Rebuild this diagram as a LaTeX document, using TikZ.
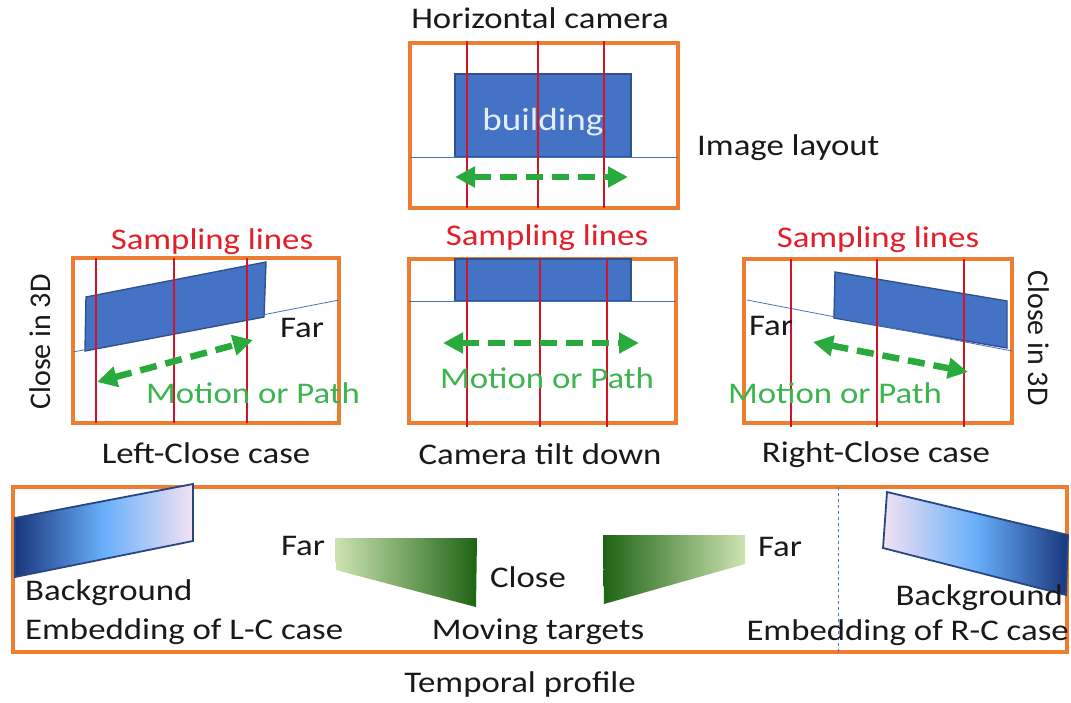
\documentclass[tikz,border=0pt]{standalone}
\usepackage{fontspec}
\setmainfont{Carlito}[FakeStretch=1.16]
\newfontfamily\vfont{Carlito}
\usetikzlibrary{arrows.meta}
\definecolor{orng}{RGB}{237,125,49}
\definecolor{bldg}{RGB}{68,114,196}
\definecolor{bldgedge}{RGB}{47,82,143}
\definecolor{sampred}{RGB}{210,20,40}
\definecolor{txtred}{RGB}{228,30,40}
\definecolor{arrgreen}{RGB}{40,170,60}
\definecolor{txtgreen}{RGB}{60,180,80}
\definecolor{bgdark}{RGB}{25,55,125}
\definecolor{bgmid}{RGB}{105,175,250}
\definecolor{bglight}{RGB}{242,226,242}
\definecolor{bgedge}{RGB}{40,70,130}
\definecolor{tgdark}{RGB}{30,100,20}
\definecolor{tglight}{RGB}{205,228,178}
\definecolor{bldtext}{RGB}{228,238,250}
\definecolor{txtblack}{RGB}{25,25,25}
\begin{document}
\begin{tikzpicture}[x=1pt,y=-1pt,
  frame/.style={draw=orng, line width=3.2pt},
  sline/.style={draw=sampred, line width=1.1pt},
  horizon/.style={draw=bldg, line width=0.8pt},
  bld/.style={fill=bldg, draw=bldgedge, line width=1.4pt},
  motion/.style={draw=arrgreen, line width=6.5pt, dash pattern=on 17pt off 9pt,
     {Triangle[length=20pt,width=20pt]}-{Triangle[length=20pt,width=20pt]}},
  txt/.style={font=\fontsize{30}{35}\selectfont, inner sep=0pt, text=txtblack},
  vtxt/.style={font=\vfont\fontsize{30}{35}\selectfont, inner sep=0pt, text=txtblack},
  redtxt/.style={txt, text=txtred},
  greentxt/.style={txt, text=txtgreen},
  bgshape/.style={draw=bgedge, line width=1.8pt}
]
\useasboundingbox (0,0) rectangle (1071,702);

% ---------- top box: horizontal camera ----------
\draw[frame] (410,43) rectangle (678,208);
\draw[bld] (455,74) rectangle (631,157);
\draw[horizon] (410,157) -- (678,157);
\foreach \x in {467,538,604} \draw[sline] (\x,41) -- (\x,208);
\node[txt] (title) at (540,18) {Horizontal camera};
\node[txt, text=bldtext, font=\fontsize{32}{36}\selectfont] (building) at (543,122) {building};
\node[txt, anchor=west] (layout) at (697,148) {Image layout};
\coordinate (ta) at (455,177);
\coordinate (tb) at (628,177);
\draw[motion] (ta) -- (tb);

% ---------- left-close box ----------
\draw[frame] (73,258) rectangle (339,423);
\draw[bld] (86,297) -- (266,262) -- (264,317) -- (85,351) -- cycle;
\draw[horizon] (73,352) -- (339,300);
\foreach \x in {96,174,247} \draw[sline] (\x,258) -- (\x,423);
\coordinate (la) at (97,382);
\coordinate (lb) at (253,340);
\draw[motion] (la) -- (lb);
\node[redtxt] (samp1) at (212,242) {Sampling lines};
\node[txt] (far1) at (302,328) {Far};
\node[greentxt] (mot1) at (253,393) {Motion or Path};
\node[txt] (cap1) at (206,453) {Left-Close case};
\node[vtxt, rotate=90] (close1) at (40,342) {Close in 3D};

% ---------- camera tilt down box ----------
\draw[frame] (409,259) rectangle (676,423);
\draw[bld] (455,259) rectangle (631,301);
\draw[horizon] (409,301) -- (676,301);
\foreach \x in {467,540,607} \draw[sline] (\x,259) -- (\x,427);
\coordinate (ca) at (443,343);
\coordinate (cb) at (639,343);
\draw[motion] (ca) -- (cb);
\node[redtxt] (samp2) at (547,238) {Sampling lines};
\node[greentxt] (mot2) at (547,378) {Motion or Path};
\node[txt] (cap2) at (540,454) {Camera tilt down};

% ---------- right-close box ----------
\draw[frame] (744,259) rectangle (1012,423);
\draw[bld] (835,272) -- (1007,301) -- (1007,348) -- (834,318) -- cycle;
\draw[horizon] (747,300) -- (1012,351);
\foreach \x in {791,877,964} \draw[sline] (\x,259) -- (\x,427);
\coordinate (ra) at (813,342);
\coordinate (rb) at (968,372);
\draw[motion] (ra) -- (rb);
\node[redtxt] (samp3) at (878,240) {Sampling lines};
\node[txt] (far3) at (771,326) {Far};
\node[greentxt] (mot3) at (835,393) {Motion or Path};
\node[txt] (cap3) at (876,455) {Right-Close case};
\node[vtxt, rotate=-90] (close3) at (1039,338) {Close in 3D};

% ---------- temporal profile box ----------
\draw[frame] (13,487) rectangle (1067,652);
\draw[draw=bldg, line width=0.8pt, dashed] (838,487) -- (838,652);
\shade[left color=bgdark, right color=bglight, middle color=bgmid]
  (15,518) -- (193,484) -- (193,541) -- (15,577) -- cycle;
\draw[bgshape] (15,518) -- (193,484) -- (193,541) -- (15,577) -- cycle;
\shade[left color=bglight, right color=bgdark, middle color=bgmid]
  (887,492) -- (1068,535) -- (1066,595) -- (883,548) -- cycle;
\draw[bgshape] (887,492) -- (1068,535) -- (1066,595) -- (883,548) -- cycle;
\shade[left color=tglight, right color=tgdark]
  (335,538) -- (477,538) -- (476,607) -- (336,570) -- cycle;
\shade[left color=tgdark, right color=tglight]
  (603,535) -- (745,535) -- (745,564) -- (604,604) -- cycle;
\node[txt, anchor=west] (bgl1) at (25,593) {Background};
\node[txt, anchor=west] (bgl2) at (25,632) {Embedding of L-C case};
\node[txt] (far4) at (303,546) {Far};
\node[txt] (closeb) at (528,577) {Close};
\node[txt] (moving) at (538,632) {Moving targets};
\node[txt] (far5) at (780,547) {Far};
\node[txt, anchor=east] (bgr1) at (1063,598) {Background};
\node[txt, anchor=east] (bgr2) at (1069,633) {Embedding of R-C case};
\node[txt] (temporal) at (520,684) {Temporal profile};
\end{tikzpicture}
\end{document}
